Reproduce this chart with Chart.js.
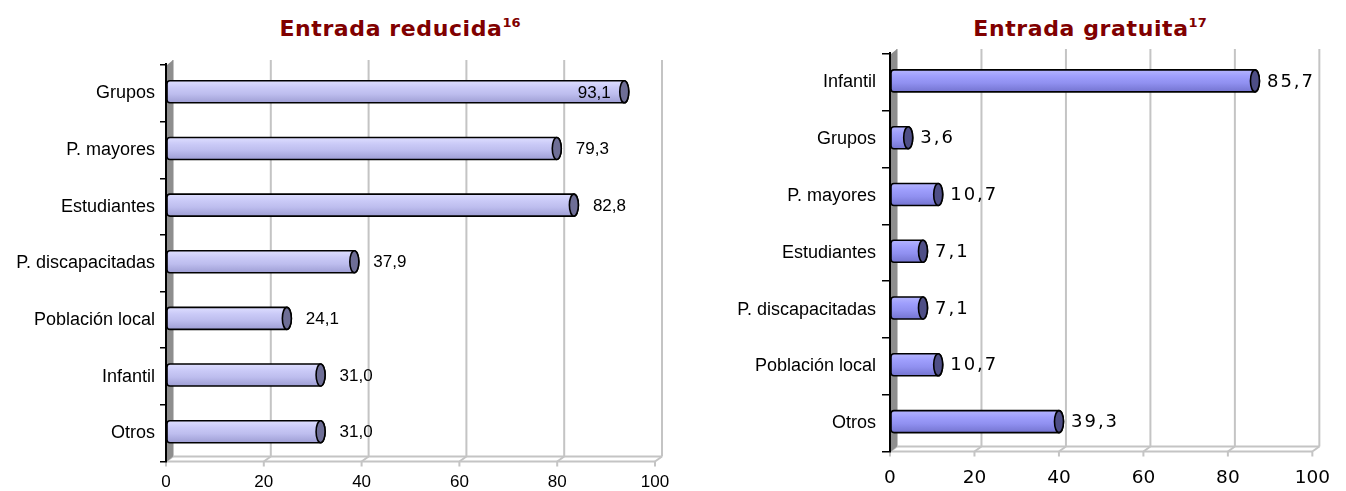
<!DOCTYPE html>
<html lang="es">
<head>
  <meta charset="UTF-8" />
  <title>Entrada reducida / Entrada gratuita</title>
  <script src="https://cdn.jsdelivr.net/npm/chart.js"></script>
  <style>
    body { margin: 0; background: #fff; width: 1346px; height: 491px; overflow: hidden; position: relative; }
    .box { position: absolute; top: 0; }
    .title {
      position: absolute; top: 17px;
      font-family: "DejaVu Sans", Verdana, sans-serif; font-weight: bold;
      font-size: 22px; line-height: 24px; letter-spacing: 0.6px;
      color: #800000; white-space: nowrap; transform: translateX(-50%);
    }
    .title sup { font-size: 13px; letter-spacing: 0; line-height: 0; vertical-align: 9px; }
  </style>
</head>
<body>
  <div class="title" style="left:400px">Entrada reducida<sup>16</sup></div>
  <div class="title" style="left:1090px">Entrada gratuita<sup>17</sup></div>

  <div class="box" style="left:0"><canvas id="reducida" width="690" height="491"></canvas></div>
  <div class="box" style="left:690px"><canvas id="gratuita" width="656" height="491"></canvas></div>

  <script>
    const reducidaLabels = ['Grupos', 'P. mayores', 'Estudiantes', 'P. discapacitadas', 'Población local', 'Infantil', 'Otros'];
    const reducidaValues = [93.1, 79.3, 82.8, 37.9, 24.1, 31.0, 31.0];

    const gratuitaLabels = ['Infantil', 'Grupos', 'P. mayores', 'Estudiantes', 'P. discapacitadas', 'Población local', 'Otros'];
    const gratuitaValues = [85.7, 3.6, 10.7, 7.1, 7.1, 10.7, 39.3];

    const xTicks = [0, 20, 40, 60, 80, 100];

    // 3D depth of the back wall
    const DX = 7, DY = 5;

    // walls, floor and back grid, drawn behind the bars
    const backdrop = {
      id: 'backdrop',
      beforeDatasetsDraw(chart) {
        const { ctx, chartArea: a, scales: { x } } = chart;
        ctx.save();
        ctx.strokeStyle = '#c4c4c4';
        ctx.lineWidth = 2;
        xTicks.forEach(v => {
          const px = x.getPixelForValue(v);
          ctx.beginPath();
          ctx.moveTo(px + DX, a.top - DY);
          ctx.lineTo(px + DX, a.bottom - DY);
          ctx.moveTo(px, a.bottom);
          ctx.lineTo(px + DX, a.bottom - DY);
          ctx.moveTo(px, a.bottom);
          ctx.lineTo(px, a.bottom + 5);
          ctx.stroke();
        });
        ctx.beginPath();
        ctx.moveTo(a.left, a.bottom);
        ctx.lineTo(x.getPixelForValue(100), a.bottom);
        ctx.moveTo(a.left + DX, a.bottom - DY);
        ctx.lineTo(x.getPixelForValue(100) + DX, a.bottom - DY);
        ctx.stroke();

        // side wall
        ctx.fillStyle = '#8e8e8e';
        ctx.beginPath();
        ctx.moveTo(a.left + 1, a.top);
        ctx.lineTo(a.left + DX, a.top - DY);
        ctx.lineTo(a.left + DX, a.bottom - DY);
        ctx.lineTo(a.left + 1, a.bottom);
        ctx.closePath();
        ctx.fill();
        ctx.strokeStyle = '#000';
        ctx.lineWidth = 2;
        ctx.beginPath();
        ctx.moveTo(a.left, a.top - 2);
        ctx.lineTo(a.left, a.bottom + 1);
        ctx.stroke();
        ctx.restore();
      }
    };

    // cylinder bars and their value labels
    const cylinders = {
      id: 'cylinders',
      afterDatasetsDraw(chart, args, opts) {
        const { ctx, chartArea: a } = chart;
        const meta = chart.getDatasetMeta(0);
        const values = chart.data.datasets[0].data;
        ctx.save();
        meta.data.forEach((bar, i) => {
          const p = bar.getProps(['x', 'y', 'base', 'height'], true);
          const h = p.height, cy = p.y - 1.5;
          const x0 = p.base + 1, x1 = p.x + 3;
          const top = cy - h / 2, bot = cy + h / 2, rx = 4.5, r = 3;

          const g = ctx.createLinearGradient(0, top, 0, bot);
          g.addColorStop(0, opts.light);
          g.addColorStop(0.3, opts.top);
          g.addColorStop(0.6, opts.mid);
          g.addColorStop(1, opts.dark);

          ctx.beginPath();
          ctx.moveTo(x0 + r, top);
          ctx.lineTo(x1, top);
          ctx.ellipse(x1, cy, rx, h / 2, 0, -Math.PI / 2, Math.PI / 2);
          ctx.lineTo(x0 + r, bot);
          ctx.quadraticCurveTo(x0, bot, x0, bot - r);
          ctx.lineTo(x0, top + r);
          ctx.quadraticCurveTo(x0, top, x0 + r, top);
          ctx.closePath();
          ctx.fillStyle = g;
          ctx.fill();
          ctx.strokeStyle = '#000';
          ctx.lineWidth = 1.6;
          ctx.stroke();

          ctx.beginPath();
          ctx.ellipse(x1, cy, rx, h / 2, 0, 0, Math.PI * 2);
          ctx.fillStyle = opts.cap;
          ctx.fill();
          ctx.stroke();

          const txt = values[i].toFixed(1).replace('.', ',');
          ctx.font = opts.font;
          ctx.letterSpacing = opts.spacing;
          ctx.fillStyle = '#000';
          ctx.textBaseline = 'middle';
          ctx.textAlign = 'left';
          const w = ctx.measureText(txt).width;
          let lx = p.x + opts.gap;
          // labels that would run past the plot go inside the bar end
          if (lx + w > a.right + opts.overflow) lx = x1 - rx - 9 - w;
          ctx.fillText(txt, lx, cy + 1);
        });
        ctx.restore();
      }
    };

    function makeChart(id, labels, values, cfg) {
      const canvas = document.getElementById(id);
      const area = cfg.area;
      return new Chart(canvas, {
        type: 'bar',
        data: {
          labels,
          datasets: [{
            data: values,
            backgroundColor: 'rgba(0,0,0,0)',
            borderWidth: 0,
            barThickness: 22
          }]
        },
        plugins: [backdrop, cylinders],
        options: {
          indexAxis: 'y',
          responsive: false,
          animation: false,
          layout: { padding: { left: 0, top: area.top, right: canvas.width - area.right, bottom: 0 } },
          plugins: {
            legend: { display: false },
            tooltip: { enabled: false },
            cylinders: cfg.bars
          },
          scales: {
            x: {
              type: 'linear', min: 0, max: 100,
              afterBuildTicks: s => { s.ticks = xTicks.map(v => ({ value: v })); },
              afterFit: s => { s.height = canvas.height - area.bottom; },
              grid: { display: false, drawTicks: false },
              border: { display: false },
              ticks: { font: cfg.xFont, color: '#000', padding: cfg.xPad }
            },
            y: {
              afterFit: s => { s.width = area.left; },
              grid: { display: true, drawOnChartArea: false, color: '#000', lineWidth: 1.5, tickLength: cfg.tickLen },
              border: { display: false },
              ticks: { font: { family: '"Liberation Sans", Arial, sans-serif', size: 18 }, color: '#000', padding: cfg.yPad }
            }
          }
        }
      });
    }

    makeChart('reducida', reducidaLabels, reducidaValues, {
      area: { left: 166, right: 655, top: 65, bottom: 461.5 },
      xFont: { family: '"Liberation Sans", Arial, sans-serif', size: 17 },
      xPad: 11,
      tickLen: 6,
      yPad: 5,
      bars: {
        light: '#dedeff', top: '#cacaf7', mid: '#bdbdee', dark: '#9e9ed4', cap: '#6e6e96',
        font: '17px "Liberation Sans", Arial, sans-serif', spacing: '0px', gap: 22, overflow: 5
      }
    });

    makeChart('gratuita', gratuitaLabels, gratuitaValues, {
      area: { left: 200, right: 634.5, top: 54, bottom: 451.5 },
      xFont: { family: '"DejaVu Sans", Verdana, sans-serif', size: 18.5 },
      xPad: 16,
      tickLen: 8,
      yPad: 6,
      bars: {
        light: '#b4b4ff', top: '#9e9efc', mid: '#9090f0', dark: '#7474d0', cap: '#4e4e86',
        font: '18px "DejaVu Sans", Verdana, sans-serif', spacing: '2px', gap: 15, overflow: 15
      }
    });
  </script>
</body>
</html>
